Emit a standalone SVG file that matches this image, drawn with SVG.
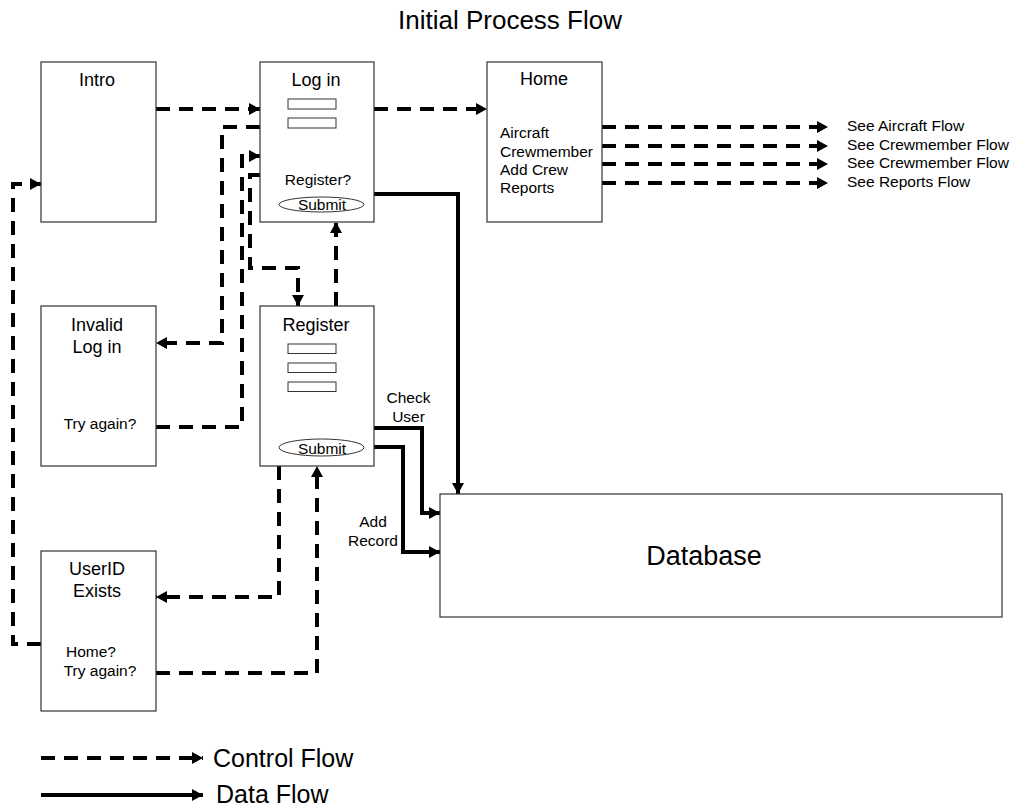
<svg xmlns="http://www.w3.org/2000/svg" width="1016" height="808" viewBox="0 0 1016 808">
<style>
text{font-family:"Liberation Sans",Arial,sans-serif;fill:#000}
.box{fill:#fff;stroke:#333;stroke-width:1.2}
.fld{fill:#fff;stroke:#333;stroke-width:1}
.tt{font-size:18px;text-anchor:middle}
.ts{font-size:15.5px;text-anchor:middle}
.tl{font-size:15.5px}
.dash{fill:none;stroke:#000;stroke-width:4;stroke-dasharray:14 9;marker-end:url(#ah)}
.solid{fill:none;stroke:#000;stroke-width:4;marker-end:url(#ah)}
</style>
<defs>
<marker id="ah" markerUnits="userSpaceOnUse" markerWidth="11" markerHeight="12" refX="11" refY="6" orient="auto">
<path d="M0,0 L11,6 L0,12 z" fill="#000"/>
</marker>
</defs>
<rect width="1016" height="808" fill="#fff"/>
<text x="510" y="29" style="font-size:26px;text-anchor:middle">Initial Process Flow</text>

<g id="connectors">
<path class="dash" d="M156,109 H260"/>
<path class="dash" d="M374,109 H487"/>
<path class="dash" d="M260,127 H222 V343 H156"/>
<path class="dash" d="M156,427 H242 V156 H260"/>
<path class="dash" d="M260,175 H250 V268 H298 V306"/>
<path class="dash" d="M336,306 V222"/>
<path class="solid" d="M374,194 H458 V494"/>
<path class="solid" d="M374,428 H422 V513 H440"/>
<path class="solid" d="M374,447 H403 V552 H440"/>
<path class="dash" d="M279,466 V597 H156"/>
<path class="dash" d="M156,673 H317 V466"/>
<path class="dash" d="M41,644 H13 V184 H41"/>
<path class="dash" d="M602,127 H828"/>
<path class="dash" d="M602,146 H828"/>
<path class="dash" d="M602,164 H828"/>
<path class="dash" d="M602,183 H828"/>
<text class="ts" x="408.5" y="403">Check</text>
<text class="ts" x="408.5" y="422">User</text>
<text class="ts" x="373" y="527">Add</text>
<text class="ts" x="373" y="546">Record</text>
<text class="tl" x="847" y="131">See Aircraft Flow</text>
<text class="tl" x="847" y="150">See Crewmember Flow</text>
<text class="tl" x="847" y="168">See Crewmember Flow</text>
<text class="tl" x="847" y="187">See Reports Flow</text>
</g>

<g id="intro">
<rect class="box" x="41" y="62" width="115" height="160"/>
<text class="tt" x="97" y="86">Intro</text>
</g>

<g id="login">
<rect class="box" x="260" y="62" width="114" height="160"/>
<text class="tt" x="316" y="86">Log in</text>
<rect class="fld" x="288" y="99" width="48" height="10"/>
<rect class="fld" x="288" y="118" width="48" height="10"/>
<text class="ts" x="318" y="185">Register?</text>
<ellipse class="fld" cx="321.5" cy="204.5" rx="42.5" ry="7.5"/>
<text class="ts" x="322" y="210">Submit</text>
</g>

<g id="home">
<rect class="box" x="487" y="62" width="115" height="160"/>
<text class="tt" x="544" y="85">Home</text>
<text class="tl" x="500" y="138">Aircraft</text>
<text class="tl" x="500" y="157">Crewmember</text>
<text class="tl" x="500" y="175">Add Crew</text>
<text class="tl" x="500" y="193">Reports</text>
</g>

<g id="invalid">
<rect class="box" x="41" y="306" width="115" height="160"/>
<text class="tt" x="97" y="331">Invalid</text>
<text class="tt" x="97" y="353">Log in</text>
<text class="ts" x="100" y="429">Try again?</text>
</g>

<g id="register">
<rect class="box" x="260" y="306" width="114" height="160"/>
<text class="tt" x="316" y="331">Register</text>
<rect class="fld" x="288" y="344" width="48" height="9.5"/>
<rect class="fld" x="288" y="363" width="48" height="9.5"/>
<rect class="fld" x="288" y="382" width="48" height="9.5"/>
<ellipse class="fld" cx="321.5" cy="447.5" rx="42.5" ry="8.5"/>
<text class="ts" x="322" y="454">Submit</text>
</g>

<g id="userid">
<rect class="box" x="41" y="551" width="115" height="160"/>
<text class="tt" x="97" y="575">UserID</text>
<text class="tt" x="97" y="597">Exists</text>
<text class="ts" x="91" y="657">Home?</text>
<text class="ts" x="100" y="676">Try again?</text>
</g>

<g id="database">
<rect class="box" x="440" y="494" width="562" height="123"/>
<text x="704" y="565" style="font-size:27px;text-anchor:middle">Database</text>
</g>

<g id="legend">
<path class="dash" d="M41,758 H203"/>
<text x="213" y="767" style="font-size:25px">Control Flow</text>
<path class="solid" d="M41,795 H203"/>
<text x="216" y="803" style="font-size:25px">Data Flow</text>
</g>
</svg>
